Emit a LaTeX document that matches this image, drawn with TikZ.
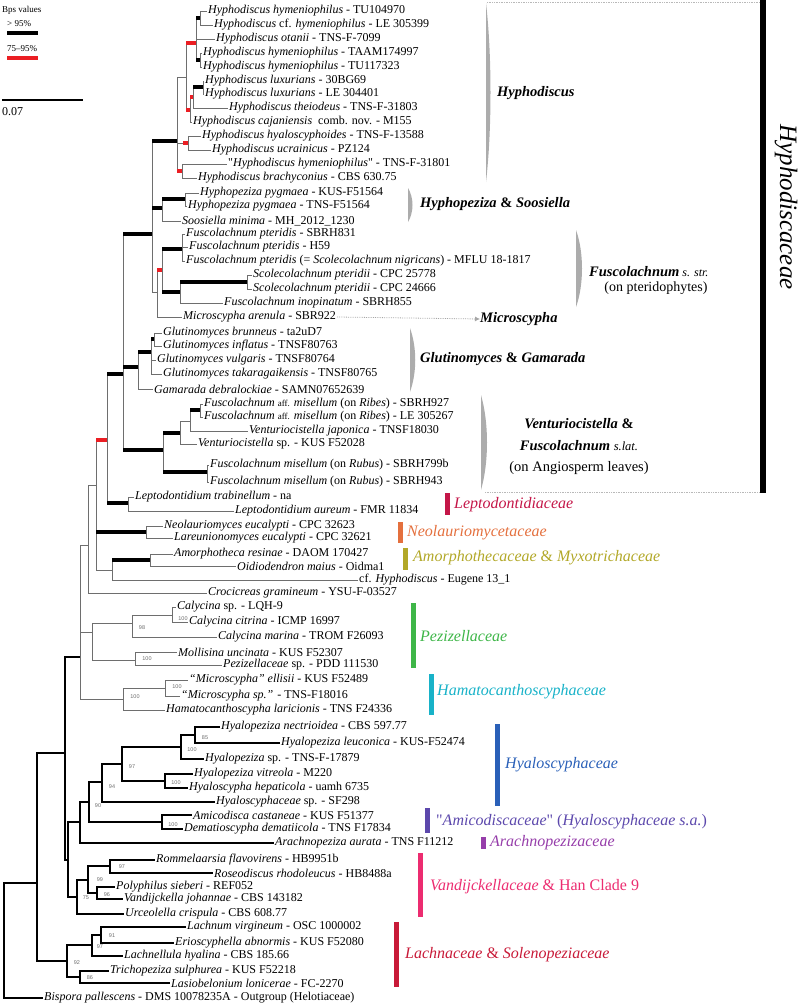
\documentclass[tikz,border=0pt]{standalone}
\usepackage{fontspec}
\setmainfont{Liberation Serif}
\newfontfamily\bsfont{Liberation Sans}
\usepackage{tikz}
\usetikzlibrary{arrows.meta}
\definecolor{brgray}{RGB}{110,110,110}
\definecolor{supred}{RGB}{235,30,35}
\definecolor{leptored}{RGB}{196,22,72}
\definecolor{neoorange}{RGB}{228,112,62}
\definecolor{amorpholive}{RGB}{178,168,40}
\definecolor{pezgreen}{RGB}{62,182,72}
\definecolor{hamcyan}{RGB}{24,178,200}
\definecolor{hyablue}{RGB}{42,96,184}
\definecolor{amipurple}{RGB}{92,72,172}
\definecolor{arapurple}{RGB}{150,62,170}
\definecolor{vanpink}{RGB}{236,44,112}
\definecolor{lachred}{RGB}{200,26,56}
\tikzset{
  leaf/.style={anchor=west, inner sep=1pt, font=\fontsize{12}{12}\selectfont},
  br/.style={draw=brgray, line width=0.8pt},
  brk/.style={draw=black, line width=1.3pt},
  hi/.style={draw=black, line width=4pt},
  mid/.style={draw=supred, line width=4pt},
  bsv/.style={font=\bsfont\fontsize{5.5}{5.5}\selectfont, text=brgray, inner sep=0pt},
  famstrip/.style={line width=5pt},
  famname/.style={anchor=west, inner sep=0pt, font=\fontsize{16}{16}\selectfont},
  cladename/.style={anchor=west, inner sep=0pt, font=\fontsize{14.5}{15}\selectfont\bfseries},
  brack/.style={fill=gray!65, draw=none},
  ptr/.style={draw=gray!70, densely dotted, line width=0.8pt, -{Latex[length=5pt,width=5pt]}}
}
\newcommand{\sq}{\textquotedbl}

\begin{document}
\begin{tikzpicture}[x=1pt, y=-1pt]
  \useasboundingbox (0,0) rectangle (798,1005);

  % legend and scale
  \node[anchor=west, inner sep=0pt, font=\fontsize{9}{9}\selectfont] (bps) at (2,10) {Bps values};
  \node[anchor=west, inner sep=0pt, font=\fontsize{9}{9}\selectfont] (hival) at (7,24) {> 95\%};
  \draw[hi] (7,33) -- (38,33);
  \node[anchor=west, inner sep=0pt, font=\fontsize{9}{9}\selectfont] (midval) at (7,49) {75--95\%};
  \draw[mid] (7,58) -- (38,58);
  \draw[black, line width=1.5pt] (2,100) -- (83,100);
  \node[anchor=west, inner sep=0pt, font=\fontsize{12}{12}\selectfont] (scale) at (2,112) {0.07};

  % internal nodes
  \coordinate (n12) at (200,18);   \coordinate (n45) at (200,60);
  \coordinate (n15) at (196,43);   \coordinate (n67) at (203,87);
  \coordinate (n68) at (193,97);   \coordinate (n69) at (190,110);
  \coordinate (n19) at (186,77);   \coordinate (n1011) at (188,143);
  \coordinate (n911) at (183,143);
  \coordinate (n1213) at (182,171); \coordinate (n113) at (177,141);
  \coordinate (n1415) at (185,199); \coordinate (n1416) at (162,208);
  \coordinate (nQ) at (152,234);
  \coordinate (n1719) at (182,249); \coordinate (n2021) at (247,282);
  \coordinate (n2022) at (180,292); \coordinate (n1722) at (162,270);
  \coordinate (n1723) at (157,292);
  \coordinate (n2425) at (154,339); \coordinate (n2427) at (151,352);
  \coordinate (n2428) at (138,367); \coordinate (nT) at (123,374);
  \coordinate (n2930) at (200,410); \coordinate (n2931) at (190,421);
  \coordinate (n2932) at (180,433); \coordinate (n3334) at (207,472);
  \coordinate (nV) at (163,450);
  \coordinate (n3536) at (128,503); \coordinate (nE) at (107,440);
  \coordinate (n3738) at (146,532); \coordinate (n3940) at (150,560);
  \coordinate (nG) at (112,570);   \coordinate (nF) at (96,485);
  \coordinate (nH) at (88,545);
  \coordinate (n4344) at (172,615); \coordinate (n4345) at (132,623);
  \coordinate (n4647) at (135,660); \coordinate (nPz) at (92,632);
  \coordinate (n4849) at (165,688); \coordinate (n4850) at (123,699);
  \coordinate (nC) at (80,657);
  \coordinate (n5152) at (195,735); \coordinate (n5153) at (181,747);
  \coordinate (n5455) at (165,781); \coordinate (n5155) at (122,764);
  \coordinate (n5156) at (102,782); \coordinate (n5758) at (162,822);
  \coordinate (n5158) at (89,802);  \coordinate (n5159) at (80,822);
  \coordinate (n6061) at (110,866); \coordinate (n6263) at (97,893);
  \coordinate (n6063) at (88,880);  \coordinate (n6064) at (77,897);
  \coordinate (nHV) at (68,860);    \coordinate (nB) at (65,753);
  \coordinate (n6566) at (101,935); \coordinate (n6567) at (92,945);
  \coordinate (n6869) at (80,977);  \coordinate (n6569) at (67,961);
  \coordinate (nA) at (37,883);     \coordinate (nR) at (4,940);

  % taxa
  \node[leaf] (l1) at (207,11) {\textit{Hyphodiscus hymeniophilus} - TU104970};
  \node[leaf] (l2) at (213,25) {\textit{Hyphodiscus} cf. \textit{hymeniophilus} - LE 305399};
  \node[leaf] (l3) at (215,39) {\textit{Hyphodiscus otanii} - TNS-F-7099};
  \node[leaf] (l4) at (202,53) {\textit{Hyphodiscus hymeniophilus} - TAAM174997};
  \node[leaf] (l5) at (202,67) {\textit{Hyphodiscus hymeniophilus} - TU117323};
  \node[leaf] (l6) at (204,81) {\textit{Hyphodiscus luxurians} - 30BG69};
  \node[leaf] (l7) at (204,94) {\textit{Hyphodiscus luxurians} - LE 304401};
  \node[leaf] (l8) at (228,108) {\textit{Hyphodiscus theiodeus} - TNS-F-31803};
  \node[leaf] (l9) at (192,122) {\textit{Hyphodiscus cajaniensis}\ \ comb. nov. - M155};
  \node[leaf] (l10) at (201,136) {\textit{Hyphodiscus hyaloscyphoides} - TNS-F-13588};
  \node[leaf] (l11) at (211,150) {\textit{Hyphodiscus ucrainicus} - PZ124};
  \node[leaf] (l12) at (227,164) {\sq\textit{Hyphodiscus hymeniophilus}\sq{} - TNS-F-31801};
  \node[leaf] (l13) at (197,178) {\textit{Hyphodiscus brachyconius} - CBS 630.75};
  \node[leaf] (l14) at (199,193) {\textit{Hyphopeziza pygmaea} - KUS-F51564};
  \node[leaf] (l15) at (187,206) {\textit{Hyphopeziza pygmaea} - TNS-F51564};
  \node[leaf] (l16) at (181,221) {\textit{Soosiella minima} - MH\_2012\_1230};
  \node[leaf] (l17) at (185,234) {\textit{Fuscolachnum pteridis} - SBRH831};
  \node[leaf] (l18) at (188,247) {\textit{Fuscolachnum pteridis} - H59};
  \node[leaf] (l19) at (185,261) {\textit{Fuscolachnum pteridis} (= \textit{Scolecolachnum nigricans}) - MFLU 18-1817};
  \node[leaf] (l20) at (252,275) {\textit{Scolecolachnum pteridii} - CPC 25778};
  \node[leaf] (l21) at (252,289) {\textit{Scolecolachnum pteridii} - CPC 24666};
  \node[leaf] (l22) at (223,303) {\textit{Fuscolachnum inopinatum} - SBRH855};
  \node[leaf] (l23) at (182,317) {\textit{Microscypha arenula} - SBR922};
  \node[leaf] (l24) at (162,333) {\textit{Glutinomyces brunneus} - ta2uD7};
  \node[leaf] (l25) at (162,346) {\textit{Glutinomyces inflatus} - TNSF80763};
  \node[leaf] (l26) at (156,360) {\textit{Glutinomyces vulgaris} - TNSF80764};
  \node[leaf] (l27) at (162,374) {\textit{Glutinomyces takaragaikensis} - TNSF80765};
  \node[leaf] (l28) at (153,389) {\textit{Gamarada debralockiae} - SAMN07652639};
  \node[leaf] (l29) at (203,404) {\textit{Fuscolachnum} {\fontsize{9}{9}\selectfont aff.} \textit{misellum} (on \textit{Ribes}) - SBRH927};
  \node[leaf] (l30) at (203,417) {\textit{Fuscolachnum} {\fontsize{9}{9}\selectfont aff.} \textit{misellum} (on \textit{Ribes}) - LE 305267};
  \node[leaf] (l31) at (248,431) {\textit{Venturiocistella japonica} - TNSF18030};
  \node[leaf] (l32) at (197,444) {\textit{Venturiocistella} sp. - KUS F52028};
  \node[leaf] (l33) at (209,465) {\textit{Fuscolachnum misellum} (on \textit{Rubus}) - SBRH799b};
  \node[leaf] (l34) at (209,482) {\textit{Fuscolachnum misellum} (on \textit{Rubus}) - SBRH943};
  \node[leaf] (l35) at (134,497) {\textit{Leptodontidium trabinellum} - na};
  \node[leaf] (l36) at (234,511) {\textit{Leptodontidium aureum} - FMR 11834};
  \node[leaf] (l37) at (163,526) {\textit{Neolauriomyces eucalypti} - CPC 32623};
  \node[leaf] (l38) at (173,538) {\textit{Lareunionomyces eucalypti} - CPC 32621};
  \node[leaf] (l39) at (173,554) {\textit{Amorphotheca resinae} - DAOM 170427};
  \node[leaf] (l40) at (236,566) {\textit{Oidiodendron maius} - Oidma1};
  \node[leaf] (l41) at (358,580) {cf. \textit{Hyphodiscus} - Eugene 13\_1};
  \node[leaf] (l42) at (207,593) {\textit{Crocicreas gramineum} - YSU-F-03527};
  \node[leaf] (l43) at (176,607) {\textit{Calycina} sp. - LQH-9};
  \node[leaf] (l44) at (188,622) {\textit{Calycina citrina} - ICMP 16997};
  \node[leaf] (l45) at (217,637) {\textit{Calycina marina} - TROM F26093};
  \node[leaf] (l46) at (177,652) {\textit{Mollisina uncinata} - KUS F52307};
  \node[leaf] (l47) at (222,665) {\textit{Pezizellaceae} sp. - PDD 111530};
  \node[leaf] (l48) at (188,680) {\textit{“Microscypha” ellisii} - KUS F52489};
  \node[leaf] (l49) at (180,696) {\textit{“Microscypha sp.”} - TNS-F18016};
  \node[leaf] (l50) at (165,710) {\textit{Hamatocanthoscypha laricionis} - TNS F24336};
  \node[leaf] (l51) at (220,727) {\textit{Hyalopeziza nectrioidea} - CBS 597.77};
  \node[leaf] (l52) at (280,743) {\textit{Hyalopeziza leuconica} - KUS-F52474};
  \node[leaf] (l53) at (204,759) {\textit{Hyalopeziza} sp. - TNS-F-17879};
  \node[leaf] (l54) at (193,774) {\textit{Hyalopeziza vitreola} - M220};
  \node[leaf] (l55) at (188,788) {\textit{Hyaloscypha hepaticola} - uamh 6735};
  \node[leaf] (l56) at (215,802) {\textit{Hyaloscyphaceae} sp. - SF298};
  \node[leaf] (l57) at (192,815) {\textit{Amicodisca castaneae} - KUS F51377};
  \node[leaf] (l58) at (183,829) {\textit{Dematioscypha dematiicola} - TNS F17834};
  \node[leaf] (l59) at (274,843) {\textit{Arachnopeziza aurata} - TNS F11212};
  \node[leaf] (l60) at (155,860) {\textit{Rommelaarsia flavovirens} - HB9951b};
  \node[leaf] (l61) at (213,873) {\textit{Roseodiscus rhodoleucus} - HB8488a};
  \node[leaf] (l62) at (115,887) {\textit{Polyphilus sieberi} - REF052};
  \node[leaf] (l63) at (123,899) {\textit{Vandijckella johannae} - CBS 143182};
  \node[leaf] (l64) at (124,914) {\textit{Urceolella crispula} - CBS 608.77};
  \node[leaf] (l65) at (186,927) {\textit{Lachnum virgineum} - OSC 1000002};
  \node[leaf] (l66) at (174,943) {\textit{Erioscyphella abnormis} - KUS F52080};
  \node[leaf] (l67) at (123,956) {\textit{Lachnellula hyalina} - CBS 185.66};
  \node[leaf] (l68) at (109,971) {\textit{Trichopeziza sulphurea} - KUS F52218};
  \node[leaf] (l69) at (170,983) {\textit{Lasiobelonium lonicerae} - FC-2270};
  \node[leaf] (l70) at (43,998) {\textit{Bispora pallescens} - DMS 10078235A - Outgroup (Helotiaceae)};

  % branches, Hyphodiscaceae and neighbours
  \foreach \p/\c in {n15/n12, n15/n45, n19/n15, n19/n69, n69/n68, n68/n67,
      n113/n19, n113/n911, n911/n1011, n113/n1213, nQ/n113, nQ/n1416, nQ/n1723,
      n1416/n1415, n1723/n1722, n1722/n1719, n1722/n2022, n2022/n2021,
      n2427/n2425, n2428/n2427, nT/nQ, nT/n2428, nT/nV, nV/n2932, nV/n3334,
      n2932/n2931, n2931/n2930, nE/nT, nE/n3536, nF/nE, nF/n3738, nF/nG,
      nG/n3940, nH/nF, nC/nH, nC/nPz, nC/n4850, nPz/n4345, nPz/n4647,
      n4345/n4344, n4850/n4849}
    \draw[br] (\p) |- (\c);
  \foreach \p/\c in {n12/l1, n12/l2, n15/l3, n45/l4, n45/l5, n67/l6, n67/l7,
      n68/l8, n69/l9, n1011/l10, n1011/l11, n1213/l12, n1213/l13, n1415/l14,
      n1415/l15, n1416/l16, n1719/l17, n1719/l18, n1719/l19, n2021/l20,
      n2021/l21, n2022/l22, n1723/l23, n2425/l24, n2425/l25, n2427/l26,
      n2427/l27, n2428/l28, n2930/l29, n2930/l30, n2931/l31, n2932/l32,
      n3334/l33, n3334/l34, n3536/l35, n3536/l36, n3738/l37, n3738/l38,
      n3940/l39, n3940/l40, nG/l41, nH/l42, n4344/l43, n4344/l44, n4345/l45,
      n4647/l46, n4647/l47, n4849/l48, n4849/l49, n4850/l50}
    \draw[br] (\p) |- (\c.west);

  % branches, lower part
  \foreach \p/\c in {nR/nA, nA/nB, nA/n6569, nB/nC, nB/nHV, nHV/n5159,
      nHV/n6064, n5159/n5158, n5158/n5156, n5158/n5758, n5156/n5155,
      n5155/n5153, n5155/n5455, n5153/n5152, n6064/n6063, n6063/n6061,
      n6063/n6263, n6569/n6567, n6569/n6869, n6567/n6566}
    \draw[brk] (\p) |- (\c);
  \foreach \p/\c in {nR/l70, n5159/l59, n5156/l56, n5153/l53, n5152/l51,
      n5152/l52, n5455/l54, n5455/l55, n5758/l57, n5758/l58, n6064/l64,
      n6061/l60, n6061/l61, n6263/l62, n6263/l63, n6567/l67, n6566/l65,
      n6566/l66, n6869/l68, n6869/l69}
    \draw[brk] (\p) |- (\c.west);

  % support bars
  \foreach \p/\c in {n15/n12, n15/n45, n68/n67, nQ/n113, nQ/n1416,
      n1416/n1415, n1722/n1719, n1722/n2022, n2022/n2021, n2427/n2425,
      n2428/n2427, nT/n2428, nT/nQ, nT/nV, nV/n2932, nV/n3334, n2931/n2930,
      nE/nT, nE/n3536, nF/n3738, nG/n3940}
    \draw[hi] (\p |- \c) -- (\c);
  \foreach \p/\c in {n19/n15, n19/n69, n69/n68, n911/n1011, n113/n1213,
      n1723/n1722, nF/nE}
    \draw[mid] (\p |- \c) -- (\c);

  % bootstrap values
  \node[bsv] (b4344) at (183,619) {100};
  \node[bsv] (b4345) at (142,628) {98};
  \node[bsv] (b4647) at (147,659) {100};
  \node[bsv] (b4849) at (177,687) {100};
  \node[bsv] (b4850) at (135,697) {100};
  \node[bsv] (b5152) at (205,738) {85};
  \node[bsv] (b5153) at (192,750) {100};
  \node[bsv] (b5155) at (132,767) {97};
  \node[bsv] (b5455) at (176,783) {100};
  \node[bsv] (b5156) at (112,787) {94};
  \node[bsv] (b5158) at (98,806) {90};
  \node[bsv] (b5758) at (173,825) {100};
  \node[bsv] (b6061) at (122,867) {97};
  \node[bsv] (b6063) at (100,880) {99};
  \node[bsv] (b6263) at (107,895) {96};
  \node[bsv] (b6064) at (86,898) {75};
  \node[bsv] (b6566) at (112,936) {91};
  \node[bsv] (b6567) at (100,947) {97};
  \node[bsv] (b6569) at (77,963) {92};
  \node[bsv] (b6869) at (90,978) {86};

  % Hyphodiscaceae frame
  \draw[gray!55, densely dotted, line width=0.7pt] (487,2) -- (762,2);
  \draw[gray!55, densely dotted, line width=0.7pt] (485,492) -- (762,492);
  \draw[black, line width=6pt] (763,0) -- (763,493);
  \node[rotate=-90, inner sep=0pt, font=\fontsize{25}{25}\selectfont\itshape] (hyfam) at (786,207) {Hyphodiscaceae};

  % clade brackets
  \fill[brack] (486,3) -- (486,182) .. controls (492,130) and (492,55) .. (486,3);
  \fill[brack] (408,188) -- (408,222) .. controls (414,212) and (414,198) .. (408,188);
  \fill[brack] (576,230) -- (576,307) .. controls (584,285) and (584,252) .. (576,230);
  \fill[brack] (410,328) -- (410,392) .. controls (417,372) and (417,348) .. (410,328);
  \fill[brack] (481,395) -- (481,490) .. controls (489,462) and (489,423) .. (481,395);

  % clade names
  \node[cladename] (chy) at (497,93) {\textit{Hyphodiscus}};
  \node[cladename] (chs) at (420,204) {\textit{Hyphopeziza} \& \textit{Soosiella}};
  \node[cladename] (cfu) at (589,272) {\textit{Fuscolachnum}\mdseries\textit{\fontsize{12}{12}\selectfont\ s. str.}};
  \node[inner sep=0pt, font=\fontsize{14}{14}\selectfont] (cfu2) at (656,288) {(on pteridophytes)};
  \node[cladename] (cmi) at (480,319) {\textit{Microscypha}};
  \draw[ptr] (l23.east) -- (cmi.west);
  \node[cladename] (cgl) at (420,359) {\textit{Glutinomyces} \& \textit{Gamarada}};
  \node[inner sep=0pt, align=center, font=\fontsize{14.5}{21.5}\selectfont] (cve) at (579,447)
    {\textbf{\textit{Venturiocistella}} \textbf{\&}\\
     \textbf{\textit{Fuscolachnum}} {\fontsize{12.5}{12}\selectfont\textit{s.lat.}}\\
     (on Angiosperm leaves)};

  % families
  \draw[famstrip, leptored] (447,493) -- (447,515);
  \node[famname, leptored] (fle) at (454,505) {\textit{Leptodontidiaceae}};
  \draw[famstrip, neoorange] (400.5,522) -- (400.5,543);
  \node[famname, neoorange] (fne) at (407,533) {\textit{Neolauriomycetaceae}};
  \draw[famstrip, amorpholive] (405.5,548) -- (405.5,570);
  \node[famname, amorpholive] (fam) at (413,558) {\textit{Amorphothecaceae} \& \textit{Myxotrichaceae}};
  \draw[famstrip, pezgreen] (413.5,603) -- (413.5,668);
  \node[famname, pezgreen] (fpe) at (420,636) {\textit{Pezizellaceae}};
  \draw[famstrip, hamcyan] (431.5,674) -- (431.5,715);
  \node[famname, hamcyan] (fha) at (437,692) {\textit{Hamatocanthoscyphaceae}};
  \draw[famstrip, hyablue] (497.5,724) -- (497.5,806);
  \node[famname, hyablue] (fhy) at (505,765) {\textit{Hyaloscyphaceae}};
  \draw[famstrip, amipurple] (427,808) -- (427,833);
  \node[famname, amipurple] (fami) at (436,822) {\sq\textit{Amicodiscaceae}\sq{} (\textit{Hyaloscyphaceae s.a.})};
  \draw[famstrip, arapurple] (483,837) -- (483,849);
  \node[famname, arapurple] (far) at (490,843) {\textit{Arachnopezizaceae}};
  \draw[famstrip, vanpink] (420.5,853) -- (420.5,917);
  \node[famname, vanpink] (fva) at (430,887) {\textit{Vandijckellaceae} \& Han Clade 9};
  \draw[famstrip, lachred] (396,922) -- (396,987);
  \node[famname, lachred] (fla) at (405,955) {\textit{Lachnaceae} \& \textit{Solenopeziaceae}};
\end{tikzpicture}
\end{document}
